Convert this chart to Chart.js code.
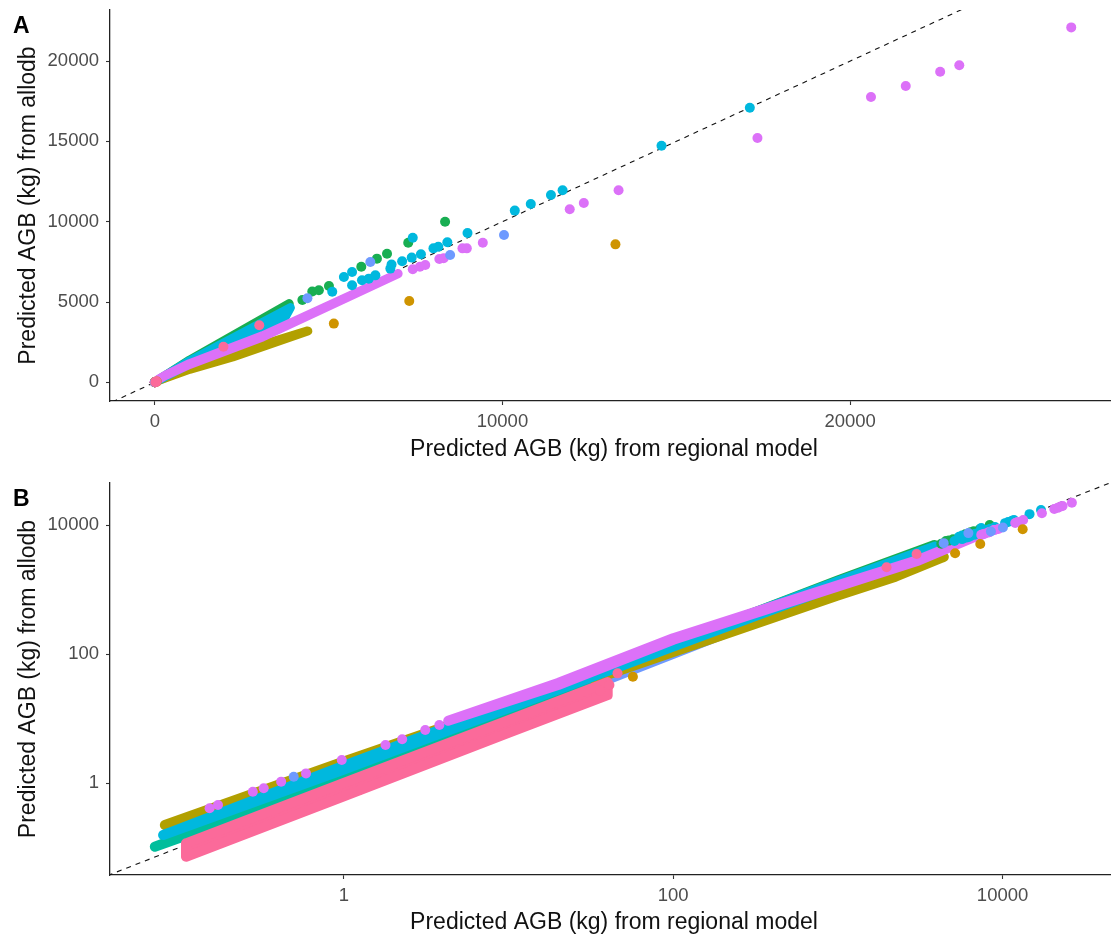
<!DOCTYPE html>
<html>
<head>
<meta charset="utf-8">
<script src="https://cdn.jsdelivr.net/npm/chart.js@4/dist/chart.umd.min.js"></script>
<style>
  html, body { margin: 0; padding: 0; background: #fff; overflow: hidden; }
  body { width: 1111px; height: 936px; position: relative; }
  .panel { position: absolute; left: 0; width: 1123px; height: 468px; }
  #panelA { top: 0; }
  #panelB { top: 468px; }
  .tag { position: absolute; left: 13px; font: bold 23px "Liberation Sans", Arial, sans-serif; line-height: 23px; color: #000; }
</style>
</head>
<body>
<div class="panel" id="panelA"><canvas id="chartA" width="1123" height="468"></canvas></div>
<div class="panel" id="panelB"><canvas id="chartB" width="1123" height="468"></canvas></div>
<div class="tag" style="top:14px">A</div>
<div class="tag" style="top:487px">B</div>
<script>
// axis text
const xTitle = 'Predicted AGB (kg) from regional model';
const yTitle = 'Predicted AGB (kg) from allodb';
const linTicksX = [0, 10000, 20000];
const linTicksY = [0, 5000, 10000, 15000, 20000];
const logTicks = [1, 100, 10000];

// dense clouds, kept as outlines of [regional, allodb] pairs (kg)
const oliveBand = [[0.0818, 0.223], [1, 2.15], [10, 16.3], [100, 123], [1000, 926], [2240, 1760], [4400, 3200],
  [2240, 1580], [1000, 806], [100, 107], [10, 14.2], [1, 1.88], [0.0818, 0.223]];
const cyanBand = [[0.0798, 0.156], [1, 1.85], [10, 16.6], [100, 149], [1000, 1330], [3900, 4650],
  [3700, 3850], [1000, 1160], [100, 130], [10, 14.5], [1, 1.62], [0.0798, 0.156]];
const tealBand = [[0.0711, 0.103], [1, 1.30], [10, 11.4], [30, 32], [30, 28], [10, 10.0], [1, 1.14], [0.0711, 0.103]];
const pinkBand = [[0.110, 0.116], [1, 1.0], [10, 9.4], [40, 36.5], [40, 23], [10, 6.0], [1, 0.62],
  [0.110, 0.072], [0.110, 0.116]];
const violetBand = [[4.3, 9.2], [20, 35.5], [100, 176], [300, 432], [1000, 1160], [3100, 2900], [7000, 6770],
  [3100, 2820], [1000, 1110], [300, 412], [100, 166], [20, 33], [4.3, 9.2]];
const greenBand = [[1, 1.45], [10, 14.8], [100, 145], [1000, 1380], [3865, 4900],
  [3500, 4250], [1000, 1300], [100, 138], [10, 14.0], [1, 1.45]];
const blueBand = [[0.3, 0.33], [10, 10.6], [100, 106], [1000, 1060], [3000, 3150],
  [3000, 3000], [1000, 1010], [100, 101], [10, 10.1], [0.3, 0.31], [0.3, 0.33]];

// single trees that stand apart from the clouds
const violetPts = [[0.153, 0.405], [0.172, 0.456], [0.280, 0.733], [0.326, 0.827], [0.416, 1.05], [0.589, 1.41],
  [0.971, 2.27], [1.79, 3.88], [2.26, 4.76], [3.12, 6.62], [3.80, 7.92],
  [7420, 7035], [7625, 7200], [7780, 7305], [8185, 7680], [8310, 7720], [8850, 8340], [8975, 8340],
  [9435, 8690], [11935, 10770], [12340, 11165], [13340, 11955], [17335, 15210], [20600, 17760],
  [21600, 18450], [22590, 19340], [23140, 19740], [26360, 22100]];
const cyanPts = [[24.4, 16.2], [5105, 5640], [5675, 6040], [5960, 6350], [6155, 6455], [6345, 6660], [6775, 7080],
  [5440, 6560], [5675, 6870], [7420, 9005], [6810, 7330], [7115, 7535], [7390, 7765], [7655, 7970],
  [8015, 8340], [8155, 8440], [8415, 8720], [8995, 9300], [10355, 10690], [10815, 11100],
  [11395, 11660], [11730, 11955], [14575, 14730], [17115, 17100]];
const greenPts = [[4245, 5125], [4530, 5650], [4720, 5730], [5010, 6000], [5940, 7200], [6390, 7700],
  [6680, 8000], [7290, 8690], [8350, 10000]];
const bluePts = [[0.496, 1.25], [4390, 5230], [6200, 7490], [8495, 7930], [10045, 9170]];
const goldPts = [[1.02, 0.65], [1.24, 0.78], [3.53, 2.56], [7.62, 5.23], [16.3, 12.0], [56.9, 44.5],
  [5150, 3655], [7320, 5060], [13250, 8590]];
const pinkPts = [[36, 27], [41, 33], [45.9, 50.1], [1975, 2215], [3005, 3550]];

const colors = {
  pink: '#fb6a9a', gold: '#cf9400', olive: '#b2a000', green: '#18ae52',
  teal: '#00be9c', cyan: '#00b8de', blue: '#6e9aff', violet: '#dc71f8'
};

Chart.defaults.font.family = '"Liberation Sans", Arial, sans-serif';

const toXY = (pairs) => pairs.map(([x, y]) => ({ x, y }));

const band = (pairs, color, width) => ({
  data: toXY(pairs), showLine: true, fill: 'shape', tension: 0,
  backgroundColor: color, borderColor: color, borderWidth: width,
  borderJoinStyle: 'round', borderCapStyle: 'round', pointRadius: 0, pointHoverRadius: 0
});

const dots = (pairs, color) => ({
  data: toXY(pairs), showLine: false,
  backgroundColor: color, borderColor: color, borderWidth: 0,
  pointRadius: 5, pointHoverRadius: 5
});

// 1:1 reference line
const identity = (lo, hi) => ({
  data: [{ x: lo, y: lo }, { x: hi, y: hi }], showLine: true, fill: false,
  borderColor: '#111', borderWidth: 1.1, borderDash: [5, 5], pointRadius: 0, pointHoverRadius: 0
});

// first entry ends up on top
const datasets = (lo, hi, w) => [
  dots(pinkPts, colors.pink),
  band(pinkBand, colors.pink, w),
  dots(bluePts, colors.blue),
  dots(goldPts, colors.gold),
  dots(violetPts, colors.violet),
  dots(cyanPts, colors.cyan),
  dots(greenPts, colors.green),
  band(violetBand, colors.violet, w),
  band(cyanBand, colors.cyan, w),
  band(tealBand, colors.teal, w),
  band(greenBand, colors.green, w),
  band(oliveBand, colors.olive, w),
  band(blueBand, colors.blue, w),
  identity(lo, hi)
];

const tickFont = { size: 18.5 };
const titleFont = { size: 23 };

const axis = (type, min, max, tickVals, title, o) => ({
  type, min, max,
  afterBuildTicks: (s) => { s.ticks = tickVals.map((v) => ({ value: v })); },
  afterFit: (s) => {
    if (o.height) s.height = o.height;
    if (o.width) { s.width = o.width; s.paddingTop = 0; s.paddingBottom = 0; }
  },
  ticks: {
    color: '#4d4d4d', font: tickFont, padding: o.tickPad, maxRotation: 0, autoSkip: false,
    callback: (v) => String(v)
  },
  grid: { display: true, drawOnChartArea: false, drawTicks: true, tickLength: 4, tickColor: '#333', tickWidth: 1.1 },
  border: { display: true, color: '#222', width: 1.3 },
  title: { display: true, text: title, color: '#111', font: titleFont, padding: o.titlePad }
});

const makeChart = (id, xScale, yScale, top, lo, hi, w) => new Chart(document.getElementById(id), {
  type: 'scatter',
  data: { datasets: datasets(lo, hi, w) },
  options: {
    responsive: false,
    animation: false,
    events: [],
    layout: { padding: { top, left: 0, right: 0, bottom: 0 } },
    plugins: { legend: { display: false }, tooltip: { enabled: false } },
    scales: { x: xScale, y: yScale }
  }
});

// A: linear axes
makeChart('chartA',
  axis('linear', -1288, 27705, linTicksX, xTitle, { height: 67, tickPad: 5.5, titlePad: { top: 0, bottom: 4.8 } }),
  axis('linear', -1164, 23182, linTicksY, yTitle, { width: 110, tickPad: 7, titlePad: { top: 14.8, bottom: 0 } }),
  10, -2000, 30000, 9);

// B: log axes
makeChart('chartB',
  axis('logarithmic', 0.038, 50230, logTicks, xTitle, { height: 61, tickPad: 5.5, titlePad: { top: 0, bottom: 0 } }),
  axis('logarithmic', 0.03747, 44790, logTicks, yTitle, { width: 110, tickPad: 7, titlePad: { top: 14.8, bottom: 0 } }),
  15, 0.01, 100000, 10);
</script>
</body>
</html>
